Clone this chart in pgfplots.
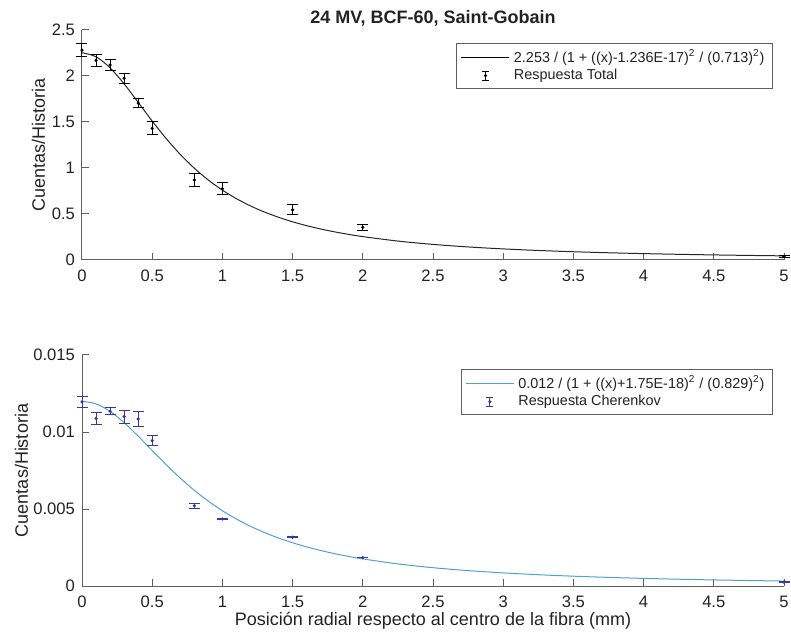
\documentclass[border=0pt]{standalone}
\usepackage{fontspec}
\setmainfont{Liberation Sans}
\usepackage{pgfplots}
\usepackage{pgfplotstable}
\pgfplotsset{compat=1.18}
\definecolor{axgray}{RGB}{95,95,95}
\definecolor{txtgray}{RGB}{35,35,35}
\definecolor{fitblue}{RGB}{85,160,200}
\definecolor{errblue}{RGB}{55,55,165}

\pgfplotstableread{
x y e
0.0 2.28 0.07
0.1 2.17 0.065
0.2 2.12 0.06
0.3 1.975 0.055
0.4 1.705 0.045
0.5 1.43 0.07
0.8 0.87 0.075
1.0 0.775 0.065
1.5 0.545 0.055
2.0 0.355 0.035
5.0 0.04 0.01
}\totaldata

\pgfplotstableread{
x y
0.0 2.2530
0.1 2.2095
0.2 2.0887
0.3 1.9141
0.4 1.7137
0.5 1.5103
0.6 1.3190
0.7 1.1472
0.8 0.9974
0.9 0.8688
1.0 0.7593
1.1 0.6665
1.2 0.5879
1.3 0.5210
1.4 0.4640
1.5 0.4152
1.6 0.3733
1.7 0.3370
1.8 0.3056
1.9 0.2781
2.0 0.2541
2.25 0.2056
2.5 0.1695
2.75 0.1419
3.0 0.1205
3.25 0.10346
3.5 0.08977
3.75 0.07861
4.0 0.06938
4.25 0.06167
4.5 0.05517
4.75 0.04964
5.0 0.04490
}\totalfit

\pgfplotstableread{
x y e
0.0 0.01195 0.00038
0.1 0.01088 0.00040
0.2 0.01135 0.00022
0.3 0.01100 0.00042
0.4 0.01085 0.00048
0.5 0.00944 0.00033
0.8 0.00521 0.00016
1.0 0.00435 0.00005
1.5 0.00316 0.00004
2.0 0.00184 0.00002
5.0 0.00025 0.00001
}\cherdata

\pgfplotstableread{
x y
0.0 0.012000
0.1 0.011828
0.2 0.011340
0.3 0.010611
0.4 0.009734
0.5 0.008799
0.6 0.007875
0.7 0.007005
0.8 0.006214
0.9 0.005508
1.0 0.004888
1.1 0.004347
1.2 0.003877
1.3 0.003469
1.4 0.003115
1.5 0.002808
1.6 0.002540
1.7 0.002305
1.8 0.002100
1.9 0.001919
2.0 0.001759
2.25 0.001434
2.5 0.001189
2.75 0.0009997
3.0 0.0008513
3.25 0.0007331
3.5 0.0006375
3.75 0.0005591
4.0 0.0004942
4.25 0.0004398
4.5 0.0003939
4.75 0.0003547
5.0 0.0003210
}\cherfit

\pgfplotsset{
  mystyle/.style={
    scale only axis, width=351pt,
    xmin=0, xmax=5,
    axis x line=bottom, axis y line=left,
    axis line style={-, draw=axgray, line width=0.5pt},
    tick align=inside, major tick length=3.5pt,
    tick style={draw=axgray, line width=0.5pt},
    xtick={0,0.5,1,1.5,2,2.5,3,3.5,4,4.5,5},
    ticklabel style={font=\fontsize{8.3}{10}\selectfont, text=txtgray},
    xticklabel style={yshift=-1.5pt},
    /pgf/number format/assume math mode=true,
    label style={font=\fontsize{9}{11}\selectfont, text=txtgray},
    clip=false,
    legend cell align=left,
    legend style={draw=axgray, line width=0.5pt, fill=white,
      font=\fontsize{7.2}{8}\selectfont, text=txtgray,
      at={(rel axis cs:1,1)}, anchor=north east,
      inner xsep=2pt, inner ysep=1.2pt, row sep=-2.5pt},
  },
  fitline/.style={legend image code/.code={\draw[#1, line width=0.5pt] (0pt,0pt) -- (24pt,0pt);}},
  ibeam/.style={legend image code/.code={
    \draw[#1, line width=0.5pt] (12pt,-2.3pt) -- (12pt,2.3pt);
    \draw[#1, line width=0.5pt] (10.3pt,-2.3pt) -- (13.7pt,-2.3pt);
    \draw[#1, line width=0.5pt] (10.3pt,2.3pt) -- (13.7pt,2.3pt);
    \fill[#1] (12pt,0pt) circle (0.5pt);}},
}

\begin{document}
\begin{tikzpicture}
\useasboundingbox (-41pt,-187.5pt) rectangle (354.5pt,130pt);
\begin{axis}[mystyle,
  at={(0pt,0pt)}, anchor=south west,
  height=115pt,
  ymin=0, ymax=2.5,
  ytick={0,0.5,1,1.5,2,2.5},
  title={\bfseries 24 MV, BCF-60, Saint-Gobain},
  title style={at={(axis description cs:0.5,1)}, anchor=center, yshift=0pt,
    font=\fontsize{9}{11}\selectfont\bfseries, text=txtgray},
  ylabel={Cuentas/Historia},
  ylabel style={at={(axis description cs:-0.062,0.5)}, anchor=center},
  legend style={xshift=-5.5pt, yshift=-6.5pt},
]
\addplot[black!85, line width=0.5pt, smooth, fitline=black] table[x=x,y=y] {\totalfit};
\addlegendentry{2.253 / (1 + ((x)-1.236E-17)\textsuperscript{2} / (0.713)\textsuperscript{2})}
\addplot[black, only marks, mark=*, mark size=0.6pt, ibeam=black,
  error bars/.cd, y dir=both, y explicit,
  error bar style={line width=0.5pt, black},
  error mark options={rotate=90, mark size=2.75pt, line width=0.5pt, black}]
  table[x=x, y=y, y error=e] {\totaldata};
\addlegendentry{Respuesta Total}
\end{axis}

\begin{axis}[mystyle,
  at={(0pt,-163pt)}, anchor=south west,
  height=115.5pt,
  ymin=0, ymax=0.015,
  ytick={0,0.005,0.01,0.015},
  yticklabels={0,0.005,0.01,0.015},
  scaled y ticks=false,
  xlabel={Posición radial respecto al centro de la fibra (mm)},
  xlabel style={at={(axis description cs:0.5,0)}, anchor=center, yshift=-17.5pt},
  ylabel={Cuentas/Historia},
  ylabel style={at={(axis description cs:-0.0862,0.5)}, anchor=center},
  legend style={xshift=-5.5pt, yshift=-7pt},
]
\addplot[fitblue, line width=0.5pt, smooth, fitline=fitblue] table[x=x,y=y] {\cherfit};
\addlegendentry{0.012 / (1 + ((x)+1.75E-18)\textsuperscript{2} / (0.829)\textsuperscript{2})}
\addplot[errblue, only marks, mark=*, mark size=0.6pt, ibeam=errblue,
  error bars/.cd, y dir=both, y explicit,
  error bar style={line width=0.5pt, errblue},
  error mark options={rotate=90, mark size=2.75pt, line width=0.5pt, errblue}]
  table[x=x, y=y, y error=e] {\cherdata};
\addlegendentry{Respuesta Cherenkov}
\end{axis}
\end{tikzpicture}
\end{document}
